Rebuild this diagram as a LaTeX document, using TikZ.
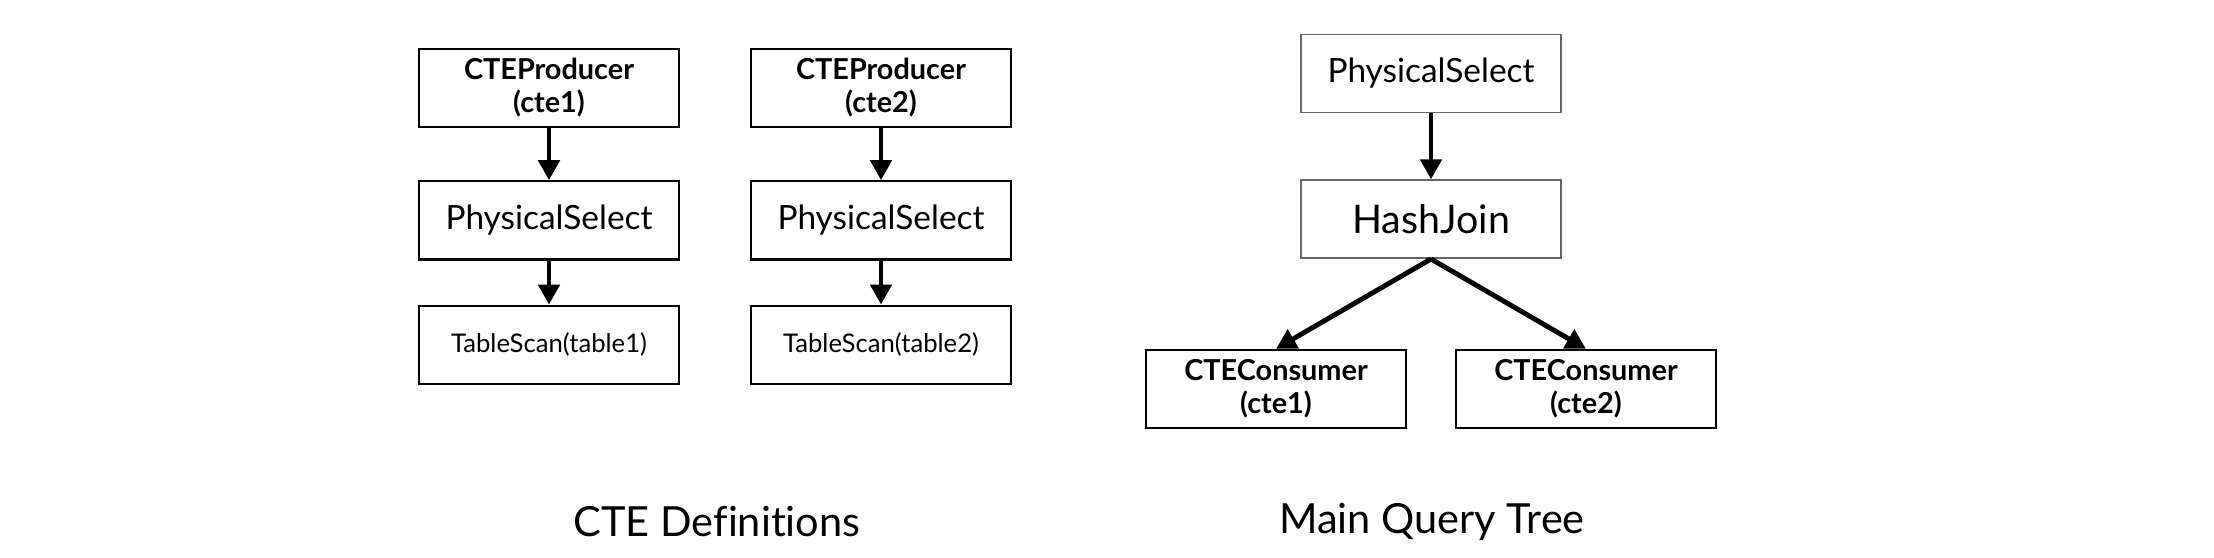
\documentclass[tikz,border=0pt]{standalone}
\usepackage{fontspec}
\setmainfont{Lato}[Ligatures=NoCommon]
\usetikzlibrary{arrows.meta, positioning}

\tikzset{
	opbox/.style={draw, line width=0.65pt, minimum width=2.6cm, minimum height=0.78cm, align=center, inner sep=0pt},
	cteop/.style={opbox, font=\bfseries\fontsize{8.2}{9.4}\selectfont},
	plainop/.style={opbox, font=\fontsize{9.5}{11}\selectfont},
	scanop/.style={opbox, font=\fontsize{7.3}{9}\selectfont},
	grayop/.style={plainop, draw=black!60, line width=0.45pt},
	flow/.style={-{Triangle[length=0.2cm, width=0.21cm]}, line width=1.4pt},
	caption/.style={font=\fontsize{11.8}{14}\selectfont}
}

\begin{document}
\begin{tikzpicture}[x=0.01cm, y=-0.01cm]

\useasboundingbox (0,0) rectangle (2214,558);

% cte definitions
\node [cteop] (prod1) at (549,88) {CTEProducer\\(cte1)};
\node [plainop, below=0.52cm of prod1] (sel1) {PhysicalSelect};
\node [scanop, below=0.44cm of sel1] (scan1) {TableScan(table1)};

\node [cteop] (prod2) at (881,88) {CTEProducer\\(cte2)};
\node [plainop, below=0.52cm of prod2] (sel2) {PhysicalSelect};
\node [scanop, below=0.44cm of sel2] (scan2) {TableScan(table2)};

\draw [flow] (prod1) -- (sel1);
\draw [flow] (sel1) -- (scan1);
\draw [flow] (prod2) -- (sel2);
\draw [flow] (sel2) -- (scan2);

% main query
\node [grayop] (top) at (1431,73.5) {PhysicalSelect};
\node [grayop, font=\fontsize{11.2}{13}\selectfont, below=0.66cm of top] (join) {HashJoin};
\node [cteop] (cons1) at (1276,389) {CTEConsumer\\(cte1)};
\node [cteop] (cons2) at (1586,389) {CTEConsumer\\(cte2)};

\draw [flow] (top) -- (join);
\draw [flow] (join.south) -- (cons1.north);
\draw [flow] (join.south) -- (cons2.north);

\node [caption] (defs) at (717,522) {CTE Definitions};
\node [caption] (main) at (1432,522) {Main Query Tree};

\end{tikzpicture}
\end{document}
